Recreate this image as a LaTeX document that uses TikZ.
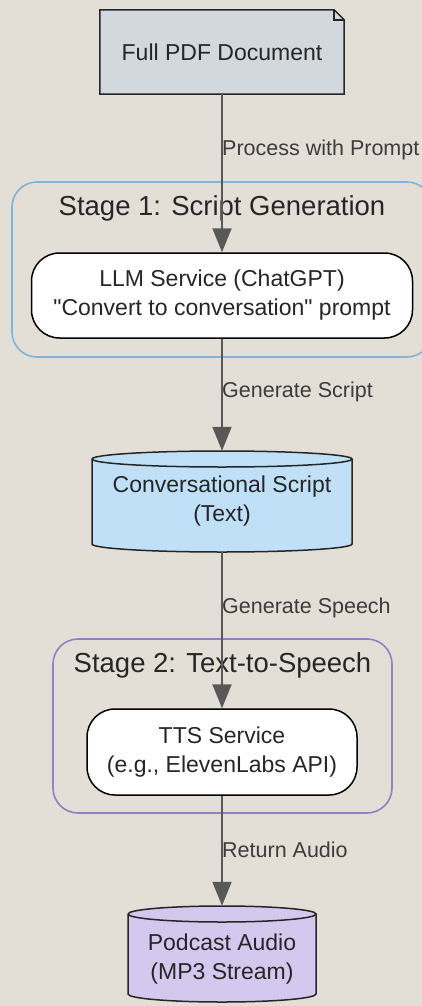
\documentclass[tikz,border=0pt]{standalone}
\usepackage{fontspec}
\setmainfont{Liberation Sans}
\usetikzlibrary{arrows.meta}
\definecolor{bg}{RGB}{227,223,215}
\definecolor{docfill}{RGB}{209,217,223}
\definecolor{cylblue}{RGB}{192,224,248}
\definecolor{cylpurple}{RGB}{212,200,238}
\definecolor{stageblue}{RGB}{128,180,220}
\definecolor{stagepurple}{RGB}{144,128,196}
\definecolor{edgegray}{RGB}{88,88,88}
\definecolor{txt}{RGB}{38,38,38}
\tikzset{
  nodefont/.style={font=\fontsize{23}{29}\selectfont, text=txt, align=center},
  notebox/.style={nodefont, draw=none, inner sep=0pt, minimum width=244pt, minimum height=84pt},
  roundbox/.style={nodefont, draw=black, line width=1.5pt, fill=white, rounded corners=28pt, inner sep=0pt},
  cylbox/.style={nodefont, draw=none, inner sep=0pt},
  cylline/.style={draw=black!85, line width=1.5pt},
  clusterbox/.style={rounded corners=25pt, line width=1.6pt, inner sep=0pt, fill=none},
  clusterlabel/.style={font=\fontsize{27.5}{33}\selectfont, text=txt, inner sep=0pt},
  elabel/.style={font=\fontsize{21.5}{25}\selectfont, text=txt!90!white, inner sep=0pt, anchor=west},
  edge/.style={draw=edgegray, line width=2pt, -{Triangle[length=24pt,width=19pt]}}
}
\begin{document}
\begin{tikzpicture}[x=1pt,y=1pt]
\fill[bg] (0,0) rectangle (422,-1006);
\useasboundingbox (0,0) rectangle (422,-1006);
\begin{scope}
\clip (0,0) rectangle (422,-1006);
\node[clusterbox, draw=stageblue, minimum width=420pt, minimum height=175pt] (stage1) at (222,-269.5) {};
\node[clusterbox, draw=stagepurple, minimum width=339pt, minimum height=174pt] (stage2) at (222.5,-726) {};
\end{scope}
\node[clusterlabel] (s1label) at (222,-208) {Stage 1: Script Generation};
\node[clusterlabel] (s2label) at (222.5,-665) {Stage 2: Text-to-Speech};

% document note
\node[notebox] (doc) at (222,-52) {};
\fill[docfill] (doc.north west) -- ([xshift=-10pt]doc.north east) -- ([yshift=-10pt]doc.north east) -- (doc.south east) -- (doc.south west) -- cycle;
\draw[line width=1.5pt, black!85] (doc.north west) -- ([xshift=-10pt]doc.north east) -- ([yshift=-10pt]doc.north east) -- (doc.south east) -- (doc.south west) -- cycle;
\draw[line width=1.5pt, black!85] ([xshift=-10pt]doc.north east) -- ([xshift=-10pt,yshift=-10pt]doc.north east) -- ([yshift=-10pt]doc.north east);
\node[nodefont, inner sep=0pt] (doctext) at (doc.center) {Full PDF Document};

% LLM
\node[roundbox, minimum width=381pt, minimum height=85pt] (llm) at (222,-295.5) {LLM Service (ChatGPT)\\\textquotedbl Convert to conversation\textquotedbl{} prompt};

% cylinder 1
\fill[cylblue] (92,-459) -- (92,-544) arc[start angle=180,end angle=360,x radius=130,y radius=8] -- (352,-459) arc[start angle=0,end angle=180,x radius=130,y radius=8] -- cycle;
\draw[cylline] (92,-459) -- (92,-544) arc[start angle=180,end angle=360,x radius=130,y radius=8] -- (352,-459) arc[start angle=0,end angle=180,x radius=130,y radius=8];
\draw[cylline] (92,-459) arc[start angle=180,end angle=360,x radius=130,y radius=8];
\node[cylbox, minimum width=260pt, minimum height=101pt] (script) at (222,-501.5) {Conversational Script\\(Text)};

% TTS
\node[roundbox, minimum width=270pt, minimum height=86pt] (tts) at (222,-752) {TTS Service\\(e.g., ElevenLabs API)};

% cylinder 2
\fill[cylpurple] (128,-914) -- (128,-994) arc[start angle=180,end angle=360,x radius=94,y radius=8] -- (316,-914) arc[start angle=0,end angle=180,x radius=94,y radius=8] -- cycle;
\draw[cylline] (128,-914) -- (128,-994) arc[start angle=180,end angle=360,x radius=94,y radius=8] -- (316,-914) arc[start angle=0,end angle=180,x radius=94,y radius=8];
\draw[cylline] (128,-914) arc[start angle=180,end angle=360,x radius=94,y radius=8];
\node[cylbox, minimum width=188pt, minimum height=96pt] (audio) at (222,-954) {};
\node[cylbox] (audiotext) at (222,-959) {Podcast Audio\\(MP3 Stream)};

% edges
\draw[edge] (doc.south) -- (llm.north);
\draw[edge] (llm.south) -- (script.north);
\draw[edge] (script.south) -- (tts.north);
\draw[edge] (tts.south) -- (audio.north);

\node[elabel] (l1) at (222,-150) {Process with Prompt};
\node[elabel] (l2) at (222,-392) {Generate Script};
\node[elabel] (l3) at (222,-608) {Generate Speech};
\node[elabel] (l4) at (222,-850) {Return Audio};
\end{tikzpicture}
\end{document}
